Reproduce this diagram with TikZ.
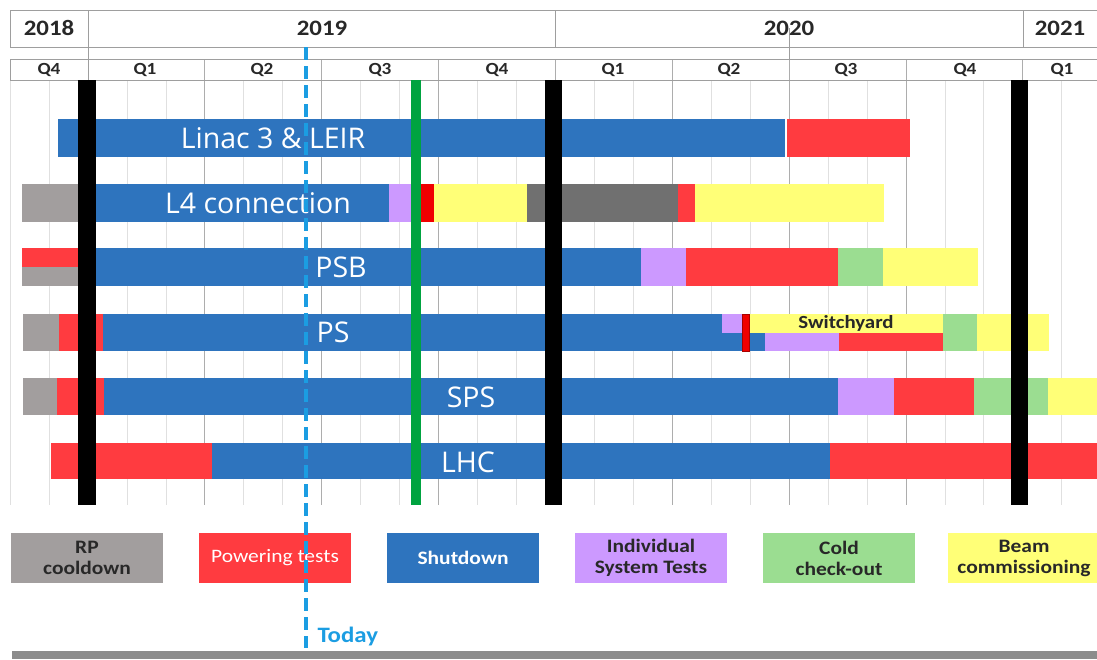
\documentclass[tikz,border=0pt]{standalone}
\usepackage{fontspec}
\setmainfont{Carlito}[FakeStretch=1.13]
\newfontfamily\rowfont{Open Sans}

\definecolor{shutblue}{RGB}{46,116,190}
\definecolor{powred}{RGB}{255,59,64}
\definecolor{rpgray}{RGB}{162,158,158}
\definecolor{darkgray}{RGB}{112,112,112}
\definecolor{istpurple}{RGB}{204,153,255}
\definecolor{coldgreen}{RGB}{155,221,145}
\definecolor{beamyellow}{RGB}{255,255,119}
\definecolor{brightred}{RGB}{240,0,0}
\definecolor{markgreen}{RGB}{0,163,64}
\definecolor{todayblue}{RGB}{27,157,226}
\definecolor{darktext}{RGB}{40,40,40}

\tikzset{
  shutbar/.style={fill=shutblue},
  powbar/.style={fill=powred},
  rpbar/.style={fill=rpgray},
  dgbar/.style={fill=darkgray},
  istbar/.style={fill=istpurple},
  coldbar/.style={fill=coldgreen},
  beambar/.style={fill=beamyellow},
  monthline/.style={draw=black!12,line width=0.8pt},
  qline/.style={draw=black!32,line width=0.8pt},
  hdrline/.style={draw=black!38,line width=0.9pt},
  yearlabel/.style={text=darktext,font=\bfseries\fontsize{22}{24}\selectfont},
  qlabel/.style={text=darktext,font=\bfseries\fontsize{17}{19}\selectfont},
  rowlabel/.style={text=white,font=\rowfont\fontsize{28.5}{31}\selectfont},
  legbox/.style={minimum width=152pt,minimum height=50pt,inner sep=0pt,align=center,
    text=darktext,font=\bfseries\fontsize{19}{21}\selectfont},
  todayline/.style={draw=todayblue,line width=3.5pt,dash pattern=on 13pt off 6pt},
}

\begin{document}
\begin{tikzpicture}[x=1pt,y=-1pt]
  \useasboundingbox (0,0) rectangle (1097,659);

  % grid
  \foreach \k in {-2,...,26}
    \draw[monthline] ({88+38.95*\k},80) -- ({88+38.95*\k},505);
  \foreach \k in {0,3,...,24}
    \draw[qline] ({88+38.95*\k},59) -- ({88+38.95*\k},505);

  % header
  \draw[hdrline] (10,10) rectangle (1110,47);
  \draw[hdrline] (10,59) rectangle (1110,80);
  \draw[hdrline] (88,10) -- (88,80);
  \draw[hdrline] (555,10) -- (555,47);
  \draw[hdrline] (1023,10) -- (1023,47);
  \draw[hdrline] (789,28) -- (789,59);

  \node[yearlabel] (y2018) at (49,28) {2018};
  \node[yearlabel] (y2019) at (322,28) {2019};
  \node[yearlabel] (y2020) at (789,28) {2020};
  \node[yearlabel] (y2021) at (1060,28) {2021};
  \foreach \q/\x [count=\i] in {Q4/49,Q1/145,Q2/262,Q3/380,Q4/497,Q1/613,Q2/729,Q3/846,Q4/965,Q1/1062}
    \node[qlabel] (q\i) at (\x,70) {\q};

  % Linac 3 & LEIR
  \fill[shutbar] (58,119) rectangle (785,157);
  \fill[powbar] (787,119) rectangle (910,157);

  % L4
  \fill[rpbar] (22,184) rectangle (80,222);
  \fill[shutbar] (80,184) rectangle (389,222);
  \fill[istbar] (389,184) rectangle (416,222);
  \fill[brightred] (416,184) rectangle (434,222);
  \fill[beambar] (434,184) rectangle (527,222);
  \fill[dgbar] (527,184) rectangle (678,222);
  \fill[powbar] (678,184) rectangle (695,222);
  \fill[beambar] (695,184) rectangle (884,222);

  % PSB
  \fill[powbar] (22,248) rectangle (80,267);
  \fill[rpbar] (22,267) rectangle (80,286);
  \fill[shutbar] (80,248) rectangle (641,286);
  \fill[istbar] (641,248) rectangle (686,286);
  \fill[powbar] (686,248) rectangle (838,286);
  \fill[coldbar] (838,248) rectangle (883,286);
  \fill[beambar] (883,248) rectangle (978,286);

  % PS
  \fill[rpbar] (23,314) rectangle (59,351);
  \fill[powbar] (59,314) rectangle (103,351);
  \fill[shutbar] (103,314) rectangle (722,351);
  \fill[istbar] (722,314) rectangle (742,332.5);
  \fill[shutbar] (722,332.5) rectangle (765,351);
  \fill[beambar] (749.5,314) rectangle (942.5,332.5);
  \fill[istbar] (765,332.5) rectangle (839,351);
  \fill[powbar] (839,332.5) rectangle (942.5,351);
  \filldraw[fill=brightred,draw=brightred!70!black] (742,314) rectangle (749.5,351);
  \fill[coldbar] (942.5,314) rectangle (977,351);
  \fill[beambar] (977,314) rectangle (1049,351);

  % SPS
  \fill[rpbar] (23,378) rectangle (57,415);
  \fill[powbar] (57,378) rectangle (104,415);
  \fill[shutbar] (104,378) rectangle (838,415);
  \fill[istbar] (838,378) rectangle (894,415);
  \fill[powbar] (894,378) rectangle (974,415);
  \fill[coldbar] (974,378) rectangle (1048,415);
  \fill[beambar] (1048,378) rectangle (1097,415);

  % LHC
  \fill[powbar] (51,443) rectangle (212,479);
  \fill[shutbar] (212,443) rectangle (829.5,479);
  \fill[powbar] (829.5,443) rectangle (1097,479);

  % milestones
  \fill[black] (78,80) rectangle (96,505);
  \fill[black] (545,80) rectangle (562,505);
  \fill[black] (1011,80) rectangle (1028,505);
  \fill[markgreen] (411,80) rectangle (421,505);

  \node[rowlabel] (linac) at (273,138) {Linac 3 \& LEIR};
  \node[rowlabel] (lfour) at (258,203) {L4 connection};
  \node[rowlabel] (psb) at (341,267) {PSB};
  \node[rowlabel] (ps) at (333,332) {PS};
  \node[rowlabel] (sps) at (471,397) {SPS};
  \node[rowlabel] (lhc) at (468,462) {LHC};
  \node[text=darktext,font=\bfseries\fontsize{18.5}{20}\selectfont] (swy) at (846,323) {Switchyard};

  % legend
  \node[legbox,fill=rpgray] (lrp) at (87,558) {RP\\cooldown};
  \node[legbox,fill=powred,text=white,font=\fontsize{19}{21}\selectfont] (lpow) at (275,558) {Powering tests};
  \node[legbox,fill=shutblue,text=white] (lshut) at (463,558) {Shutdown};
  \node[legbox,fill=istpurple] (list) at (651,558) {Individual\\System Tests};
  \node[legbox,fill=coldgreen] (lcold) at (839,558) {Cold\\check-out};
  \node[legbox,fill=beamyellow] (lbeam) at (1024,558) {Beam\\commissioning};

  % today
  \coordinate (tdtop) at (306,47);
  \coordinate (tdbot) at (306,648);
  \draw[todayline] (tdtop) -- (tdbot);
  \node[anchor=west,text=todayblue,font=\bfseries\fontsize{22}{24}\selectfont] (today) at (314,636) {Today};

  \fill[black!45] (12,651) rectangle (1097,659);
\end{tikzpicture}
\end{document}
